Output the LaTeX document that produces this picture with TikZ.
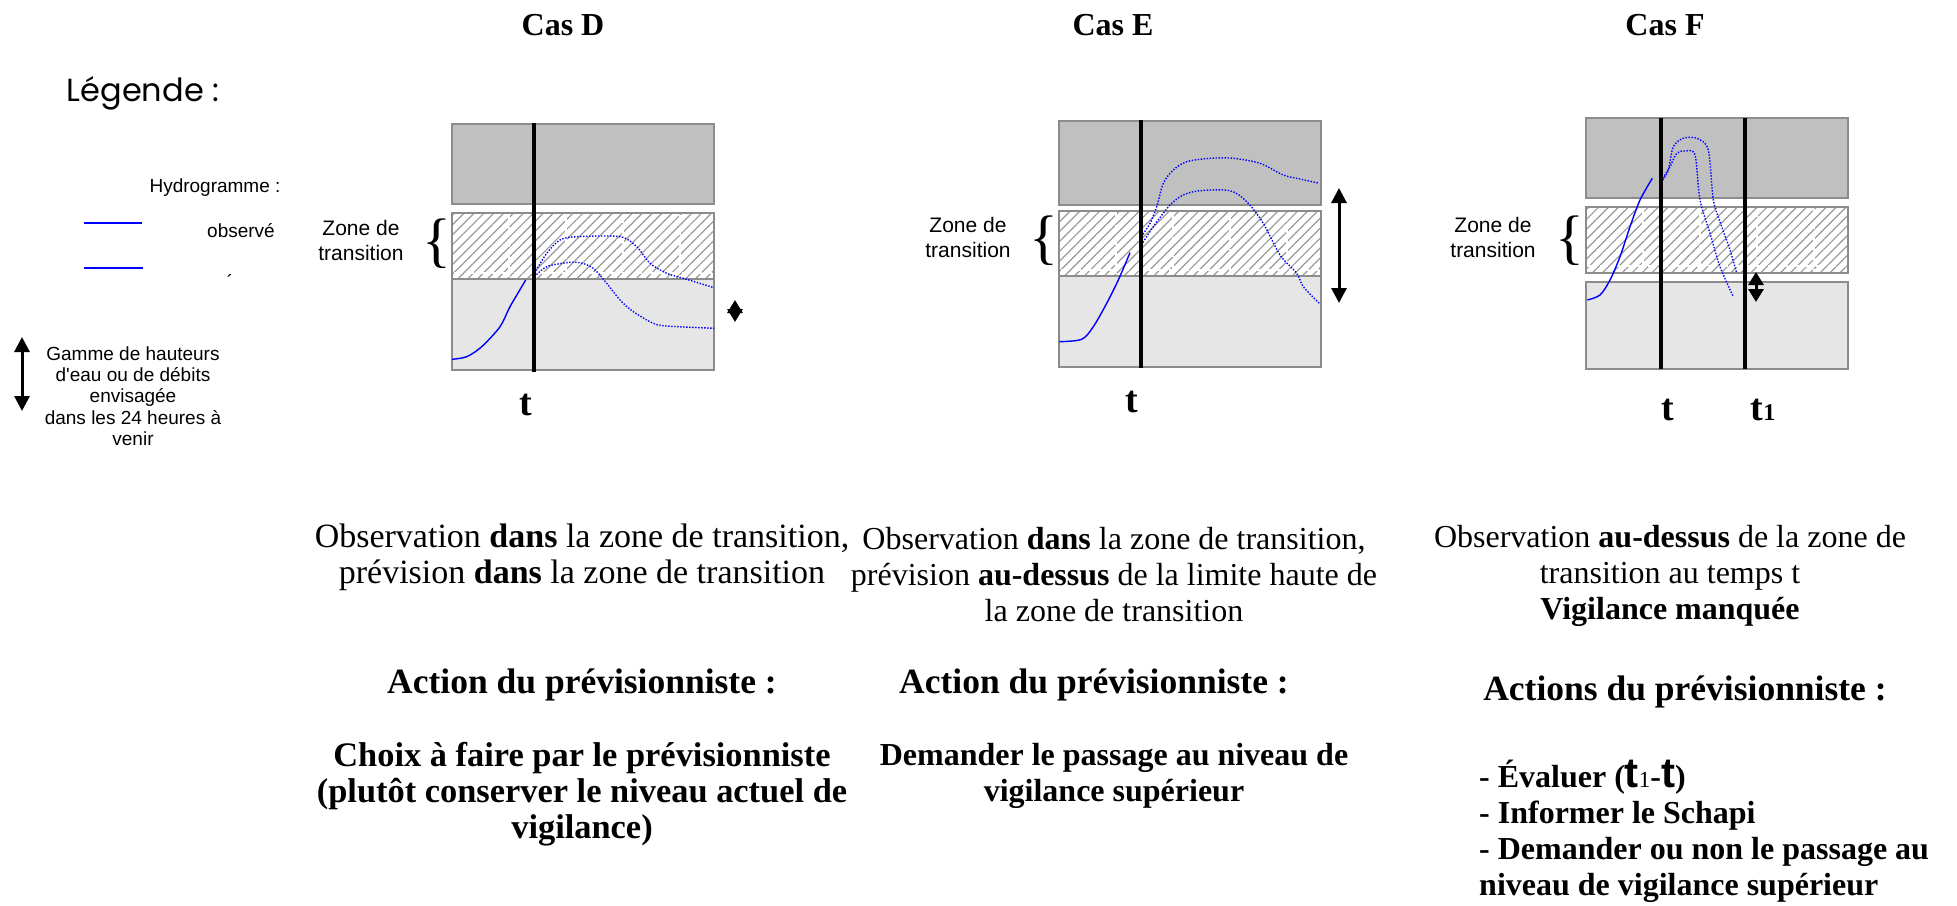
\documentclass[tikz,border=0pt]{standalone}
\usepackage{fontspec}
\setmainfont{Liberation Serif}
\newfontfamily\arialfont{Liberation Sans}
\newfontfamily\gothicfont{Poppins}
\usetikzlibrary{arrows.meta,patterns.meta,positioning}
\definecolor{hautgris}{HTML}{C0C0C0}
\definecolor{basgris}{HTML}{E6E6E6}
\definecolor{bordgris}{HTML}{8C8C8C}
\definecolor{hydro}{HTML}{0000FF}
\tikzstyle{haut}=[
	draw=bordgris,
	line width=2.5,
	fill=hautgris]
\tikzstyle{bas}=[
	draw=bordgris,
	line width=2.5,
	fill=basgris]
\tikzstyle{transit}=[
	draw=bordgris,
	line width=2.5,
	preaction={fill=white},
	pattern={Lines[angle=45,distance=7pt,line width=1.2pt]},
	pattern color=gray!80]
\tikzstyle{couture}=[
	draw=white,
	line width=1.2,
	dash pattern=on 8pt off 4pt]
\tikzstyle{temps}=[
	draw=black,
	line width=3.5]
\tikzstyle{observe}=[
	draw=hydro,
	line width=1.4]
\tikzstyle{prevu}=[
	draw=hydro,
	line width=1.4,
	dash pattern=on 1.4pt off 1.6pt]
\tikzstyle{gamme}=[
	line width=3,
	{Triangle[length=15pt,width=15pt]}-{Triangle[length=15pt,width=15pt]}]
\tikzstyle{gammecourte}=[
	line width=3,
	{Triangle[length=13pt,width=15pt]}-{Triangle[length=13pt,width=15pt]}]
\tikzstyle{titre}=[
	font=\bfseries\fontsize{32}{36}\selectfont]
\tikzstyle{texte}=[
	align=center,
	font=\fontsize{32}{36}\selectfont]
\tikzstyle{texteg}=[
	align=center,
	font=\bfseries\fontsize{32}{36}\selectfont]
\tikzstyle{action}=[
	font=\bfseries\fontsize{35.5}{36}\selectfont]
\tikzstyle{zone}=[
	align=center,
	font=\arialfont\fontsize{21}{25}\selectfont]
\tikzstyle{legende}=[
	align=center,
	font=\arialfont\fontsize{19}{21.3}\selectfont]
\tikzstyle{accolade}=[
	inner sep=0,
	font=\fontsize{60}{60}\selectfont]
\tikzstyle{instant}=[
	font=\bfseries\fontsize{38}{40}\selectfont]
\begin{document}
\begin{tikzpicture}[x=1pt,y=-1pt]
\useasboundingbox (0,0) rectangle (1957,905);
\begin{scope}
	\node[font=\gothicfont\fontsize{32}{34}\selectfont] (legende) at (143,93) {Légende :};
	\node[legende] (hydrogramme) at (215,188) {Hydrogramme :};
	\coordinate (obsA) at (84,223);
	\coordinate (obsB) at (142,223);
	\draw[observe] (obsA) -- (obsB);
	\node[legende] (observe) at (241,231) {observé};
	\coordinate (prevA) at (84,268);
	\coordinate (prevB) at (143,268);
	\draw[observe] (prevA) -- (prevB);
	\node[legende] (prevu) at (230,282) {´};
	\coordinate (gammeH) at (22,337);
	\coordinate (gammeB) at (22,411);
	\draw[gamme] (gammeH) -- (gammeB);
	\node[legende] (gammetxt) at (133,396) {Gamme de hauteurs\\d\textquotesingle eau ou de débits\\envisagée\\dans les 24 heures à\\venir};
\end{scope}
\begin{scope}
	\node[titre] (casD) at (563,25) {Cas D};
	\path[haut] (452,124) rectangle (714,204);
	\path[transit] (452,213) rectangle (714,279);
	\foreach \k in {1,...,4}
		\draw[couture] (452+57*\k,215) -- (452+57*\k,277);
	\draw[couture] (454,273) -- (712,273);
	\path[bas] (452,279) rectangle (714,370);
	\node[zone] (zoneD) at (361,240) {Zone de\\transition};
	\node[accolade] (braceD) at (437,244) {\{};
	\draw[observe] plot[smooth] coordinates {(452,359.3) (466.7,356.7) (481.7,346.7) (500,326.7) (510,306.7) (525.7,280)};
	\draw[prevu] plot[smooth] coordinates {(534.3,273.3) (546.7,253.3) (560,240) (576.7,236.7) (620,236.7) (636.7,246.7) (650,263.3) (666.7,273.3) (683.3,278.3) (714,287.7)};
	\draw[prevu] plot[smooth] coordinates {(534.3,276.7) (546.7,266.7) (566.7,262.7) (580,262.7) (593.3,268.3) (606.7,283.3) (620,300) (633.3,311.7) (653.3,323.3) (666.7,326) (714,328.3)};
	\draw[temps] (534,123) -- (534,372);
	\coordinate (gammeDh) at (735,300);
	\coordinate (gammeDb) at (735,322);
	\draw[gammecourte] (gammeDh) -- (gammeDb);
	\node[instant] (tD) at (526,405) {t};
	\node[texte,font=\fontsize{34}{36}\selectfont] (obsD) at (582,557) {Observation \textbf{dans} la zone de transition,\\prévision \textbf{dans} la zone de transition};
	\node[action] (actD) at (582,685) {Action du prévisionniste :};
	\node[texteg,font=\bfseries\fontsize{34.4}{36}\selectfont] (choixD) at (582,794) {Choix à faire par le prévisionniste\\(plutôt conserver le niveau actuel de\\vigilance)};
\end{scope}
\begin{scope}
	\node[titre] (casE) at (1113,25) {Cas E};
	\path[haut] (1059,121) rectangle (1321,205);
	\path[transit] (1059,211) rectangle (1321,276);
	\foreach \k in {1,...,4}
		\draw[couture] (1059+57*\k,213) -- (1059+57*\k,274);
	\draw[couture] (1061,270) -- (1319,270);
	\path[bas] (1059,276) rectangle (1321,367);
	\node[zone] (zoneE) at (968,237) {Zone de\\transition};
	\node[accolade] (braceE) at (1044,241) {\{};
	\draw[observe] plot[smooth] coordinates {(1059.3,341.7) (1081.7,339.3) (1093.3,326.7) (1106.7,303.3) (1118.3,280) (1130,252.7)};
	\draw[prevu] plot[smooth] coordinates {(1141.3,236.7) (1150,223.3) (1156.7,206.7) (1163.3,183.3) (1173.3,170) (1186.7,161.7) (1210,158.3) (1233.3,158.3) (1260,163.3) (1283.3,175) (1300,179) (1319.3,183.3)};
	\draw[prevu] plot[smooth] coordinates {(1141.3,245) (1153.3,226.7) (1170,205) (1183.3,195) (1200,190.7) (1230,190.7) (1246.7,201.7) (1263.3,223.3) (1280,255) (1296.7,273.3) (1303.3,286.7) (1319.3,303.3)};
	\draw[temps] (1141,120) -- (1141,368);
	\coordinate (gammeEh) at (1339,188);
	\coordinate (gammeEb) at (1339,303);
	\draw[gamme] (gammeEh) -- (gammeEb);
	\node[instant] (tE) at (1132,402) {t};
	\node[texte] (obsE) at (1114,575) {Observation \textbf{dans} la zone de transition,\\prévision \textbf{au-dessus} de la limite haute de\\la zone de transition};
	\node[action] (actE) at (1094,685) {Action du prévisionniste :};
	\node[texteg] (choixE) at (1114,776) {Demander le passage au niveau de\\vigilance supérieur};
\end{scope}
\begin{scope}
	\node[titre] (casF) at (1665,25) {Cas F};
	\path[haut] (1586,118) rectangle (1848,198);
	\path[transit] (1586,207) rectangle (1848,273);
	\foreach \k in {1,...,4}
		\draw[couture] (1586+57*\k,209) -- (1586+57*\k,271);
	\draw[couture] (1588,266) -- (1846,266);
	\path[bas] (1586,282) rectangle (1848,369);
	\node[zone] (zoneF) at (1493,237) {Zone de\\transition};
	\node[accolade] (braceF) at (1570,241) {\{};
	\draw[observe] plot[smooth] coordinates {(1587.3,300) (1600,295) (1610,280) (1620,256.7) (1630,226.7) (1640,200) (1652.3,178.3)};
	\draw[prevu] plot[smooth] coordinates {(1662.7,180) (1668.3,170) (1673.3,146.7) (1683.3,138.3) (1696.7,138.3) (1708.3,150) (1713.3,200) (1721.7,226.7) (1730,250) (1736.7,273.3)};
	\draw[prevu] plot[smooth] coordinates {(1662.7,178.3) (1670,166.7) (1676.7,153.3) (1685,151) (1695,155) (1700,200) (1710,233.3) (1720,266.7) (1733.3,296.7)};
	\draw[temps] (1661,118) -- (1661,369);
	\draw[temps] (1745,118) -- (1745,369);
	\coordinate (gammeFh) at (1756,272);
	\coordinate (gammeFb) at (1756,302);
	\draw[gammecourte] (gammeFh) -- (gammeFb);
	\node[instant] (tF) at (1668,410) {t};
	\node[instant] (tunF) at (1763,410) {t{\fontsize{24}{24}\selectfont 1}};
	\node[texte] (obsF) at (1670,576) {Observation \textbf{au-dessus} de la zone de\\transition au temps t\\\textbf{Vigilance manquée}};
	\node[action] (actF) at (1685,692) {Actions du prévisionniste :};
	\node[texteg,align=left,anchor=west,inner sep=0] (choixF) at (1479,831) {- Évaluer ({\arialfont\fontsize{42}{36}\selectfont t}{\mdseries\fontsize{23}{36}\selectfont 1}-{\arialfont\fontsize{42}{36}\selectfont t})\\- Informer le Schapi\\- Demander ou non le passage au\\niveau de vigilance supérieur};
\end{scope}
\end{tikzpicture}
\end{document}
